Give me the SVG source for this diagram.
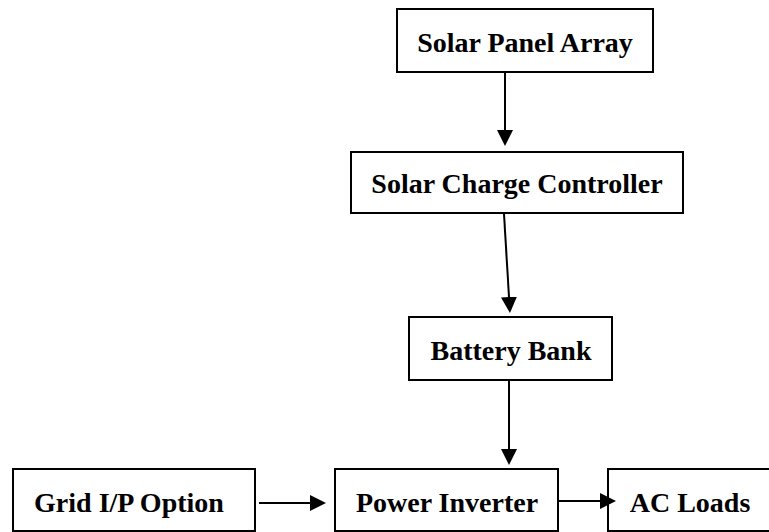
<svg xmlns="http://www.w3.org/2000/svg" width="769" height="532" viewBox="0 0 769 532">
<defs>
<style>
.box{fill:#fff;stroke:#000;stroke-width:2}
.lbl{font-family:"Liberation Serif","Times New Roman",serif;font-weight:bold;font-size:28px;fill:#000;text-anchor:middle}
.con{stroke:#000;stroke-width:2;fill:none;marker-end:url(#ah)}
</style>
<marker id="ah" viewBox="0 0 16 16" refX="0" refY="8" markerWidth="16" markerHeight="16" markerUnits="userSpaceOnUse" orient="auto">
<path d="M0,0 L16,8 L0,16 z" fill="#000"/>
</marker>
</defs>
<rect width="769" height="532" fill="#fff"/>
<g id="solar-panel-array">
<rect class="box" x="397" y="9" width="256" height="63"/>
<text class="lbl" x="525" y="52">Solar Panel Array</text>
</g>
<g id="solar-charge-controller">
<rect class="box" x="351" y="152" width="332" height="61"/>
<text class="lbl" x="517" y="193">Solar Charge Controller</text>
</g>
<g id="battery-bank">
<rect class="box" x="409" y="317" width="203" height="63"/>
<text class="lbl" x="511" y="360">Battery Bank</text>
</g>
<g id="grid-ip-option">
<rect class="box" x="13" y="469" width="242" height="62"/>
<text class="lbl" x="129" y="512">Grid I/P Option</text>
</g>
<g id="power-inverter">
<rect class="box" x="335" y="469" width="223" height="62"/>
<text class="lbl" x="447" y="512">Power Inverter</text>
</g>
<g id="ac-loads">
<rect class="box" x="608" y="469" width="170" height="62"/>
<text class="lbl" x="690" y="512">AC Loads</text>
</g>
<g id="connectors">
<line class="con" x1="505" y1="73" x2="505" y2="130"/>
<line class="con" x1="504" y1="214" x2="509" y2="297"/>
<line class="con" x1="509" y1="381" x2="509" y2="449"/>
<line class="con" x1="259" y1="503" x2="310" y2="503"/>
<line class="con" x1="559" y1="501" x2="600" y2="501"/>
</g>
</svg>
